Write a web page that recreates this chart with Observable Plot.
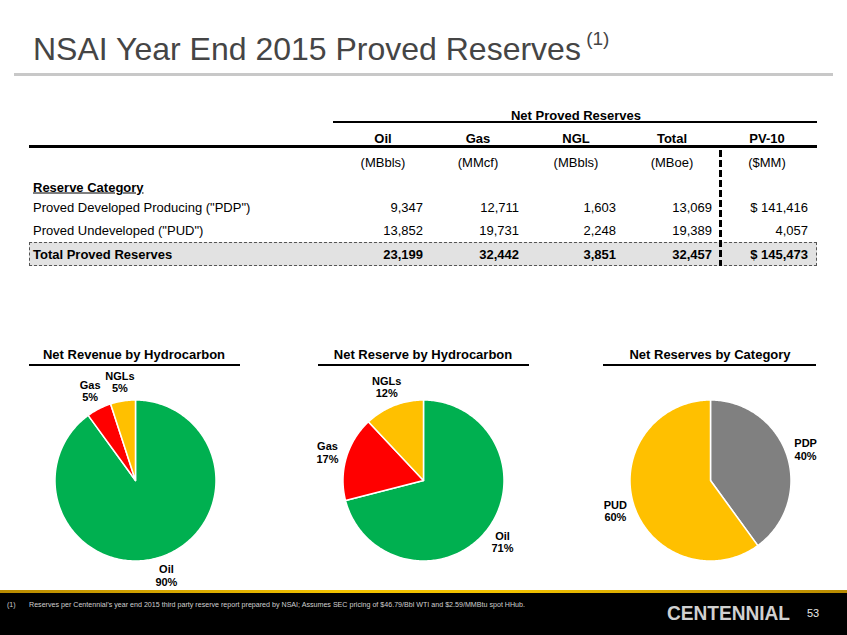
<!DOCTYPE html>
<html><head><meta charset="utf-8">
<script src="https://cdn.jsdelivr.net/npm/d3@7"></script>
<script src="https://cdn.jsdelivr.net/npm/@observablehq/plot@0.6"></script>
<style>
body{margin:0;background:#fff;}
#slide{position:relative;width:847px;height:635px;overflow:hidden;font-family:"Liberation Sans",Arial,Helvetica,sans-serif;background:#fff;color:#000;}
.abs{position:absolute;white-space:nowrap;line-height:1;}
.plot{position:absolute;}
</style></head><body><div id="slide"></div>
<script>
// ---------- data ----------
const titleText = "NSAI Year End 2015 Proved Reserves";
const titleNote = "(1)";
const tableGroup = "Net Proved Reserves";
const columns = ["Oil", "Gas", "NGL", "Total", "PV-10"];
const units = ["(MBbls)", "(MMcf)", "(MBbls)", "(MBoe)", "($MM)"];
const sectionLabel = "Reserve Category";
const rowLabels = ['Proved Developed Producing ("PDP")', 'Proved Undeveloped ("PUD")', "Total Proved Reserves"];
const oilValues = [9347, 13852, 23199];
const gasValues = [12711, 19731, 32442];
const nglValues = [1603, 2248, 3851];
const totalValues = [13069, 19389, 32457];
const pv10Values = [141416, 4057, 145473];

const pieTitles = ["Net Revenue by Hydrocarbon", "Net Reserve by Hydrocarbon", "Net Reserves by Category"];
const revenueLabels = ["Oil", "Gas", "NGLs"];
const revenueShares = [90, 5, 5];
const reserveLabels = ["Oil", "Gas", "NGLs"];
const reserveShares = [71, 17, 12];
const categoryLabels = ["PDP", "PUD"];
const categoryShares = [40, 60];
const sliceColors = {Oil: "#00b050", Gas: "#ff0000", NGLs: "#ffc000", PDP: "#808080", PUD: "#ffc000"};

const footnoteMark = "(1)";
const footnote = "Reserves per Centennial\u2019s year end 2015 third party reserve report prepared by NSAI; Assumes SEC pricing of $46.79/Bbl WTI and $2.59/MMBtu spot HHub.";
const brand = "CENTENNIAL";
const pageNumber = "53";

// ---------- helpers ----------
const slide = document.getElementById("slide");
function box(left, top, width, height, style) {
  const d = document.createElement("div");
  d.className = "abs";
  Object.assign(d.style, {left: left + "px", top: top + "px", width: width + "px", height: height + "px"}, style || {});
  slide.appendChild(d);
  return d;
}
function place(text, x, y, anchor, style) {
  const d = document.createElement("div");
  d.className = "abs";
  d.textContent = text;
  Object.assign(d.style, style || {});
  d.style.left = x + "px";
  d.style.top = y + "px";
  const tx = anchor === "middle" ? "-50%" : anchor === "end" ? "-100%" : "0";
  d.style.transform = `translate(${tx},-50%)`;
  slide.appendChild(d);
  return d;
}
function fit(el, target) {
  const w = el.getBoundingClientRect().width;
  const s = target / w;
  el.style.transformOrigin = "left center";
  el.style.transform = `translate(0,-50%) scaleX(${s})`;
}
const fmt = d3.format(",");

// ---------- title ----------
const t = place(titleText, 33, 47, "start", {fontSize: "32px", color: "#454545", lineHeight: "1"});
const tn = document.createElement("span");
tn.textContent = " " + titleNote;
Object.assign(tn.style, {fontSize: "19px", verticalAlign: "0.75em"});
t.appendChild(tn);
box(14, 73, 819, 3, {background: "#c8c8c8"});

// ---------- table ----------
const colCenter = [383, 478, 576, 672, 767];
const colRight = [423, 519, 616, 712, 808];
const rowY = [207, 230, 254];
const f13 = {fontSize: "13px"};
place(tableGroup, 576, 115, "middle", {...f13, fontWeight: "bold"});
box(333, 121, 484, 2, {background: "#000"});
columns.forEach((c, i) => place(c, colCenter[i], 138, "middle", {...f13, fontWeight: "bold"}));
box(29, 145, 788, 3, {background: "#000"});
units.forEach((u, i) => place(u, colCenter[i], 162, "middle", {...f13}));
place(sectionLabel, 33, 187, "start", {...f13, fontWeight: "bold", textDecoration: "underline"});
// total row shading
box(29, 242, 788, 24, {background: "#e2e2e2", border: "1px dashed #555", boxSizing: "border-box"});
const series = [oilValues, gasValues, nglValues, totalValues, pv10Values];
rowLabels.forEach((r, i) => {
  const bold = i === 2 ? "bold" : "normal";
  place(r, 33, rowY[i], "start", {...f13, fontWeight: bold});
  series.forEach((vals, j) => {
    let s = fmt(vals[i]);
    if (j === 4 && i !== 1) s = "$ " + s;
    place(s, colRight[j], rowY[i], "end", {...f13, fontWeight: bold});
  });
});
box(719, 150, 3, 116, {background: "repeating-linear-gradient(to bottom,#000 0 7px,transparent 7px 10px)"});

// ---------- pies ----------
function pie(labels, shares, cx, cy, ttl, ruleLeft, ruleRight, titleX) {
  const W = 260, H = 220, R = 80.5, LR = 100;
  const arcs = d3.pie().sort(null).value(d => d.share)(labels.map((l, i) => ({label: l, share: shares[i]})));
  const pts = [];
  for (const a of arcs) {
    const key = a.data.label;
    pts.push({key, x: 0, y: 0});
    const n = Math.max(2, Math.ceil((a.endAngle - a.startAngle) / (Math.PI / 180)));
    for (let k = 0; k <= n; k++) {
      const ang = a.startAngle + (a.endAngle - a.startAngle) * k / n;
      pts.push({key, x: R * Math.sin(ang), y: R * Math.cos(ang)});
    }
  }
  const mid = a => (a.startAngle + a.endAngle) / 2;
  const p = Plot.plot({
    width: W, height: H, margin: 0,
    x: {domain: [-W / 2, W / 2], axis: null},
    y: {domain: [-H / 2, H / 2], axis: null},
    color: {type: "identity"},
    style: {background: "transparent", overflow: "visible"},
    marks: [
      Plot.line(pts, {x: "x", y: "y", z: "key", fill: d => sliceColors[d.key], stroke: "white", strokeWidth: 1.5, curve: "linear-closed"}),
      Plot.text(arcs, {
        x: a => LR * Math.sin(mid(a)), y: a => LR * Math.cos(mid(a)),
        text: a => `${a.data.label}\n${a.data.share}%`,
        fontSize: 11, fontWeight: "bold", lineHeight: 1.1, fill: "#000",
        fontFamily: "Liberation Sans, Arial, sans-serif"
      })
    ]
  });
  p.classList.add("plot");
  p.style.left = (cx - W / 2) + "px";
  p.style.top = (cy - H / 2) + "px";
  slide.appendChild(p);
  place(ttl, titleX, 354, "middle", {fontSize: "13px", fontWeight: "bold"});
  box(ruleLeft, 364, ruleRight - ruleLeft, 2, {background: "#000"});
}
pie(revenueLabels, revenueShares, 134.5, 480, pieTitles[0], 29, 240, 134);
pie(reserveLabels, reserveShares, 423, 480, pieTitles[1], 318, 529, 423);
pie(categoryLabels, categoryShares, 710, 480, pieTitles[2], 603, 816, 710);

// ---------- footer ----------
box(0, 593, 847, 42, {background: "#000"});
box(0, 590, 847, 3, {background: "linear-gradient(to right,#b88a00,#f2c200 40%,#f2c200 60%,#b88a00)"});
place(footnoteMark, 7, 604, "start", {fontSize: "7px", color: "#cfcfcf"});
const fn = place(footnote, 29, 604, "start", {fontSize: "7px", color: "#cfcfcf"});
fit(fn, 496);
const br = place(brand, 667, 612, "start", {fontSize: "21px", fontWeight: "bold", color: "#d0d0d0"});
fit(br, 123);
place(pageNumber, 807, 613, "start", {fontSize: "11px", color: "#e8e8e8"});
</script></body></html>
